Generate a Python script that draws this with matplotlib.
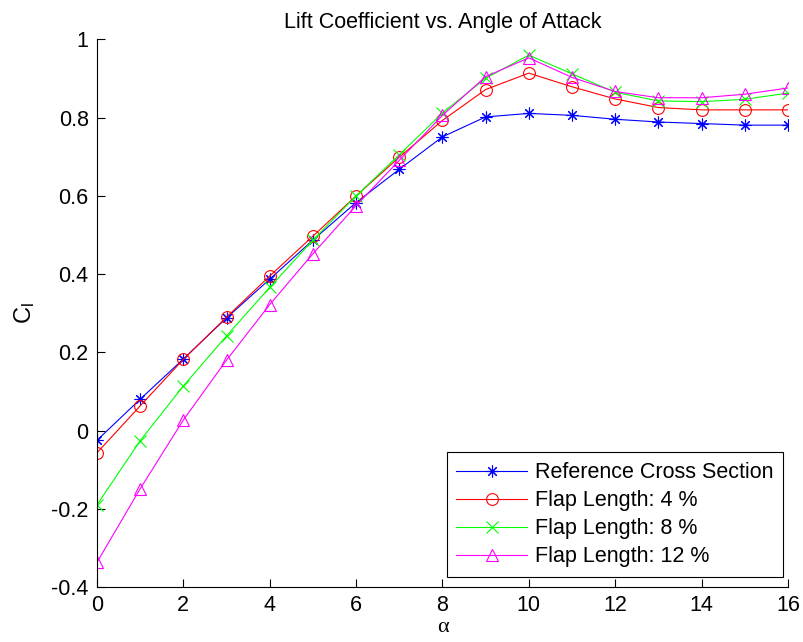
import matplotlib
matplotlib.use("Agg")
import matplotlib.pyplot as plt


OUTPUT_FILE = "out.png"

plt.rcParams["font.family"] = ["Liberation Sans", "DejaVu Sans"]
plt.rcParams["mathtext.default"] = "regular"

alpha = [0, 1, 2, 3, 4, 5, 6, 7, 8, 9, 10, 11, 12, 13, 14, 15, 16]

cl_reference = [-0.025, 0.080, 0.183, 0.288, 0.387, 0.487, 0.583, 0.668, 0.751, 0.802,
                0.811, 0.806, 0.796, 0.789, 0.785, 0.781, 0.781]
cl_flap_4 = [-0.057, 0.063, 0.182, 0.290, 0.395, 0.497, 0.600, 0.699, 0.793, 0.872,
             0.914, 0.879, 0.848, 0.826, 0.820, 0.820, 0.820]
cl_flap_8 = [-0.190, -0.026, 0.114, 0.242, 0.366, 0.487, 0.600, 0.705, 0.812, 0.901,
             0.960, 0.912, 0.865, 0.843, 0.841, 0.847, 0.863]
cl_flap_12 = [-0.337, -0.149, 0.027, 0.180, 0.322, 0.452, 0.575, 0.691, 0.806, 0.905,
              0.953, 0.903, 0.867, 0.851, 0.851, 0.860, 0.876]

labels = ["Reference Cross Section", "Flap Length: 4 %", "Flap Length: 8 %", "Flap Length: 12 %"]
colors = ["#0000ff", "#ff0000", "#00ff00", "#ff00ff"]
markers = [(8, 2, 0), "o", "x", "^"]

x_ticks = [0, 2, 4, 6, 8, 10, 12, 14, 16]
y_ticks = [-0.4, -0.2, 0, 0.2, 0.4, 0.6, 0.8, 1]
y_tick_labels = ["-0.4", "-0.2", "0", "0.2", "0.4", "0.6", "0.8", "1"]


def main():
    fig = plt.figure(figsize=(8.04, 6.42), dpi=100)
    ax = fig.add_axes([0.1206, 0.0857, 0.8594, 0.8528])

    series = [cl_reference, cl_flap_4, cl_flap_8, cl_flap_12]
    for values, label, color, marker in zip(series, labels, colors, markers):
        ax.plot(alpha, values, color=color, marker=marker, markersize=8.5,
                markerfacecolor="none", markeredgecolor=color, markeredgewidth=0.8,
                linewidth=0.8, label=label)

    ax.set_xlim(0, 16)
    ax.set_ylim(-0.4, 1)
    ax.set_xticks(x_ticks)
    ax.set_yticks(y_ticks)
    ax.set_yticklabels(y_tick_labels)

    ax.spines["top"].set_visible(False)
    ax.spines["right"].set_visible(False)
    for side in ["left", "bottom"]:
        ax.spines[side].set_linewidth(0.8)
    ax.tick_params(direction="in", length=5.5, width=0.8, labelsize=15.5, pad=6)

    ax.set_title("Lift Coefficient vs. Angle of Attack", fontsize=15.5, pad=8)
    ax.set_ylabel("C$_l$", fontsize=17, labelpad=10)
    ax.set_xlabel("\u03b1", fontsize=16, family=["Liberation Serif", "DejaVu Serif"], labelpad=1)

    leg = ax.legend(loc="lower right", fontsize=15.5, handlelength=3.3, handletextpad=0.35,
                    labelspacing=0.33, borderpad=0.45, borderaxespad=0, fancybox=False,
                    framealpha=1, edgecolor="black", bbox_to_anchor=(0.993, 0.018))
    leg.get_frame().set_linewidth(0.8)

    fig.savefig(OUTPUT_FILE, dpi=100)
    plt.close(fig)


if __name__ == "__main__":
    main()
